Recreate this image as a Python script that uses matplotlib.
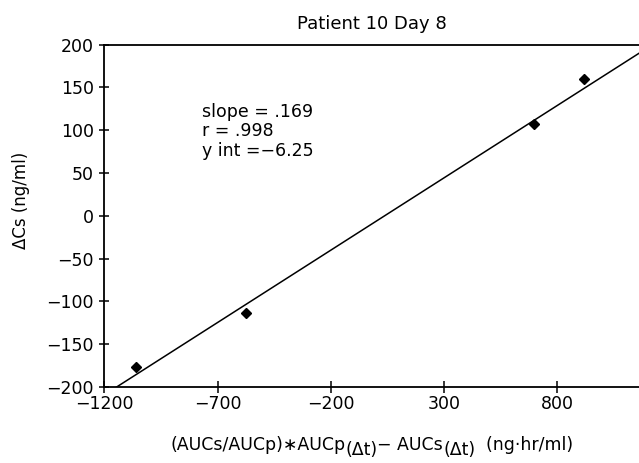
import numpy as np
import matplotlib
matplotlib.use("Agg")
import matplotlib.pyplot as plt

# -------------------------------
# DATA
# -------------------------------
x_vals = [-1060, -574, 698, 917]
y_vals = [-177, -113, 107, 160]

fit_slope = 0.169
fit_int = -6.25
fit_r = ".998"

x_ticks = [-1200, -700, -200, 300, 800]
y_ticks = [-200, -150, -100, -50, 0, 50, 100, 150, 200]

plt.rcParams["font.family"] = ["DejaVu Sans"]

# -------------------------------
# FIGURE
# -------------------------------
fig = plt.figure(figsize=(6.39, 4.63), dpi=100)
ax = fig.add_axes([0.1635, 0.1641, 0.8365, 0.7397])

ax.set_xlim(-1200, 1160)
ax.set_ylim(-200, 200)

# regression line
line_x = np.array([-1300, 1300])
ax.plot(line_x, fit_slope * line_x + fit_int, color="black", lw=1.1)

# data points
ax.plot(x_vals, y_vals, "D", color="black", markersize=5.5, clip_on=False)

ax.set_xticks(x_ticks)
ax.set_yticks(y_ticks)
ax.tick_params(direction="inout", length=8, width=1.1, labelsize=12.5,
               colors="black")
ax.tick_params(axis="x", pad=2)
ax.tick_params(axis="y", pad=4, length=7)

for side in ["left", "bottom", "top"]:
    ax.spines[side].set_linewidth(1.3)
ax.spines["right"].set_visible(False)

ax.set_title("Patient 10 Day 8", fontsize=13, pad=11)
ax.set_ylabel("ΔCs (ng/ml)", fontsize=12)
ax.yaxis.set_label_coords(-0.14, 0.546)

# x label: full-size pieces with lowered subscripts
parts = [
    ("(AUCs/AUCp)\u2217AUCp", 0),
    ("(\u0394t)", -5),
    ("\u2212 AUCs", 0),
    ("(\u0394t)", -5),
    ("  (ng\u00b7hr/ml)", 0),
]
fig.canvas.draw()
renderer = fig.canvas.get_renderer()
texts = []
for s, dy in parts:
    t = fig.text(0, 0, s, fontsize=12.5, ha="left", va="baseline")
    texts.append((t, dy))
widths = [t.get_window_extent(renderer).width for t, _ in texts]
total = sum(widths)
ax_box = ax.get_window_extent(renderer)
x0 = (ax_box.x0 + ax_box.x1) / 2 - total / 2
base = 463 - 450
for (t, dy), w in zip(texts, widths):
    t.set_position((x0 / 639, (base + dy) / 463))
    x0 += w

ax.text(-770, 132,
        "slope = .169\nr = %s\ny int =\u22126.25" % fit_r,
        fontsize=12.5, va="top", ha="left", linespacing=1.1)

plt.savefig("out.png", dpi=100)
